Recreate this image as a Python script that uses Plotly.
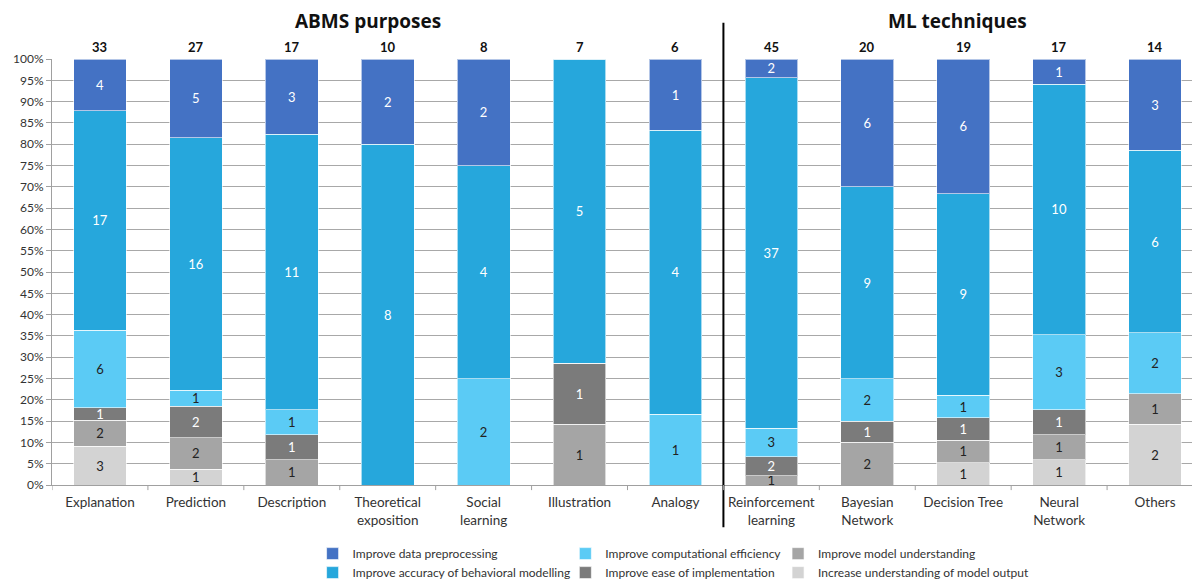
import plotly.graph_objects as go

categories = ["Explanation", "Prediction", "Description", "Theoretical<br>exposition", "Social<br>learning",
              "Illustration", "Analogy", "Reinforcement<br>learning", "Bayesian<br>Network", "Decision Tree",
              "Neural<br>Network", "Others"]
totals = [33, 27, 17, 10, 8, 7, 6, 45, 20, 19, 17, 14]

output_understanding = [3, 1, 0, 0, 0, 0, 0, 0, 0, 1, 1, 2]
model_understanding = [2, 2, 1, 0, 0, 1, 0, 1, 2, 1, 1, 1]
ease_implementation = [1, 2, 1, 0, 0, 1, 0, 2, 1, 1, 1, 0]
computational_eff = [6, 1, 1, 0, 2, 0, 1, 3, 2, 1, 3, 2]
accuracy_behav = [17, 16, 11, 8, 4, 5, 4, 37, 9, 9, 10, 6]
data_preproc = [4, 5, 3, 2, 2, 0, 1, 2, 6, 6, 1, 3]

series = [
    ("Increase understanding of model output", output_understanding, "#D3D3D3", "#222222", 6, "legend3"),
    ("Improve model understanding", model_understanding, "#A5A5A5", "#222222", 3, "legend3"),
    ("Improve ease of implementation", ease_implementation, "#7B7B7B", "white", 5, "legend2"),
    ("Improve computational efficiency", computational_eff, "#5BCBF5", "#222222", 2, "legend2"),
    ("Improve accuracy of behavioral modelling", accuracy_behav, "#26A7DC", "white", 4, "legend"),
    ("Improve data preprocessing", data_preproc, "#4472C4", "white", 1, "legend"),
]

font_family = "Lato, Open Sans, sans-serif"
x = list(range(len(categories)))

fig = go.Figure()
for name, vals, color, tcolor, rank, lg in series:
    fig.add_trace(go.Bar(
        x=x, y=vals, name=name,
        marker=dict(color=color, line=dict(color="rgba(255,255,255,0.6)", width=1)),
        text=[str(v) if v > 0 else "" for v in vals],
        textposition="inside", insidetextanchor="middle", textangle=0,
        textfont=dict(color=tcolor, size=13, family=font_family),
        width=0.55, legendrank=rank, legend=lg,
        hoverinfo="skip",
    ))

for i, t in enumerate(totals):
    fig.add_annotation(x=i, y=100, xref="x", yref="y", text=f"<b>{t}</b>", showarrow=False,
                       yanchor="bottom", yshift=2, font=dict(size=13, color="#111111", family=font_family))

fig.add_annotation(x=2.79, y=1.09, xref="x", yref="paper", text="<b>ABMS purposes</b>", showarrow=False,
                   yanchor="middle", font=dict(size=19, color="#111111", family="Open Sans, sans-serif"))
fig.add_annotation(x=8.94, y=1.09, xref="x", yref="paper", text="<b>ML techniques</b>", showarrow=False,
                   yanchor="middle", font=dict(size=19, color="#111111", family="Open Sans, sans-serif"))

fig.add_shape(type="line", xref="x", yref="paper", x0=6.5, x1=6.5, y0=-0.099, y1=1.085,
              line=dict(color="black", width=2))

legend_common = dict(orientation="v", yanchor="top", y=0.089, yref="container", xanchor="left",
                     font=dict(size=12, color="#333333", family=font_family),
                     bgcolor="rgba(0,0,0,0)", tracegroupgap=0, itemwidth=30, traceorder="normal")

fig.update_layout(
    barmode="stack", barnorm="percent",
    width=1200, height=583,
    margin=dict(l=44, r=5, t=51, b=106, autoexpand=False),
    plot_bgcolor="white", paper_bgcolor="white",
    font=dict(family=font_family, color="#333333"),
    uniformtext=dict(minsize=13, mode="show"),
    xaxis=dict(tickmode="array", tickvals=x, ticktext=categories, range=[-0.5, 11.5],
               showgrid=False, showline=True, linecolor="#A0A0A0", linewidth=1,
               ticks="", tickfont=dict(size=13.5, color="#333333"), automargin=False,
               ticklabelstandoff=5),
    yaxis=dict(range=[0, 100], dtick=5, ticksuffix="%", showgrid=True, gridcolor="#A8A8A8",
               gridwidth=1, showline=True, linecolor="#A0A0A0", linewidth=1, ticks="outside",
               ticklen=5, tickcolor="#A0A0A0", tickfont=dict(size=12, color="#333333"), zeroline=False,
               automargin=False),
    legend=dict(x=0.2264, **legend_common),
    legend2=dict(x=0.446, **legend_common),
    legend3=dict(x=0.6308, **legend_common),
    bargap=0.45,
)

# category boundary ticks on x axis
for b in [i + 0.5 for i in range(-1, 12)]:
    fig.add_shape(type="line", xref="x", yref="paper", x0=b, x1=b, y0=0, y1=-0.012,
                  line=dict(color="#A0A0A0", width=1))

fig.write_html("out.html")
